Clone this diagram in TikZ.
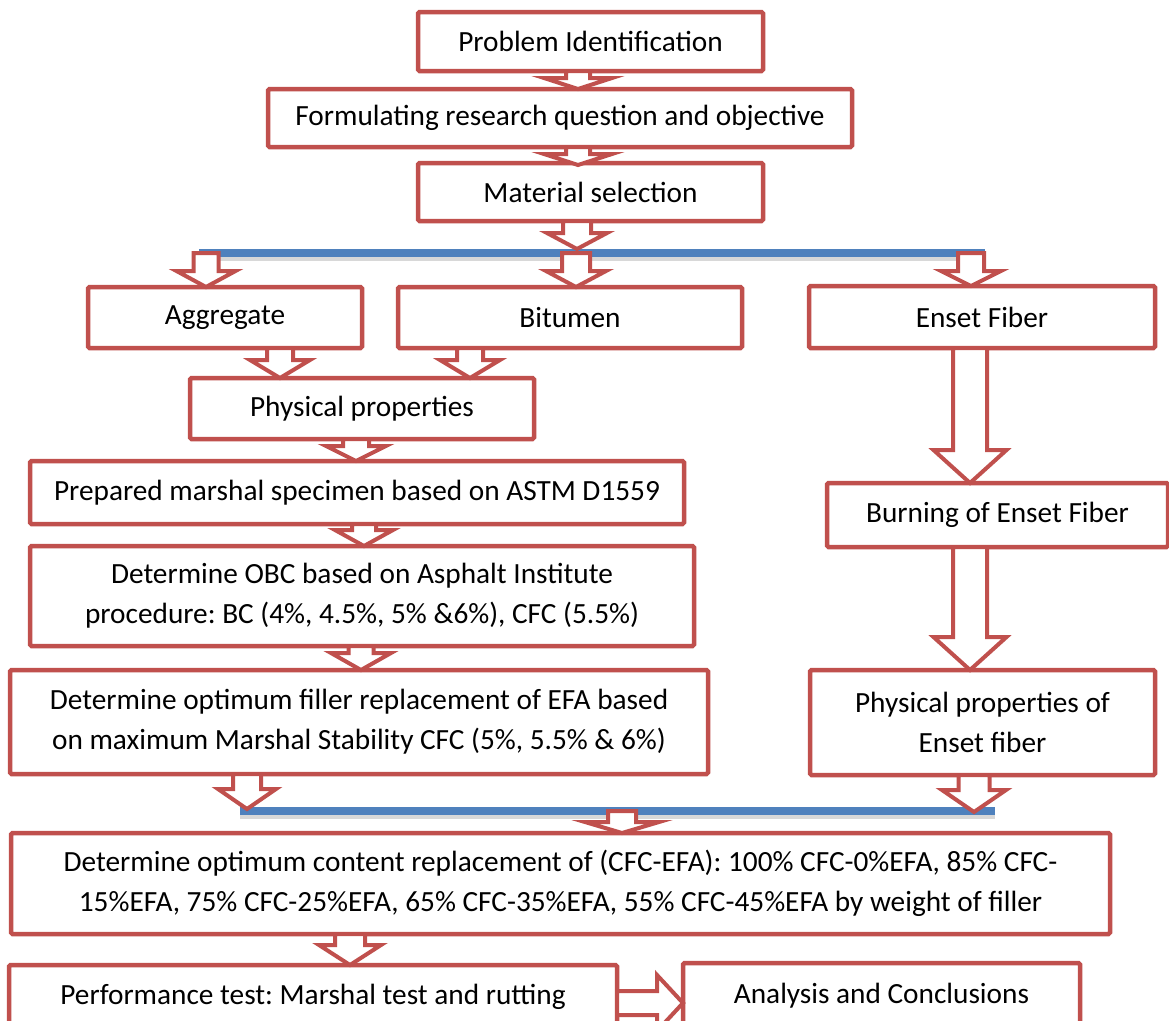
\documentclass[tikz,border=0pt]{standalone}
\usepackage{fontspec}
\setmainfont{Carlito}
\frenchspacing
\usetikzlibrary{calc}
\definecolor{boxred}{HTML}{C0504D}
\definecolor{busblue}{HTML}{4F81BD}
\tikzset{
  box/.style={draw=boxred, line width=4.5pt, fill=white, rounded corners=1.5pt,
    inner sep=0pt, outer sep=0pt, align=center, text=black,
    font=\fontsize{29.3}{40}\selectfont},
  blk/.style={draw=boxred, line width=4pt, fill=white, line join=miter},
  bus/.style={draw=busblue, line width=8pt},
  busshadow/.style={draw=black!30, line width=7pt, opacity=0.5}
}
% down block arrow: x, from, to, shaft half, head half, head length
\newcommand\blkdown[6]{\draw[blk] let \p1=(#2), \p2=(#3) in
  (#1pt-#4pt,\y1) -- (#1pt+#4pt,\y1) -- (#1pt+#4pt,\y2+#6pt) -- (#1pt+#5pt,\y2+#6pt)
  -- (#1pt,\y2) -- (#1pt-#5pt,\y2+#6pt) -- (#1pt-#4pt,\y2+#6pt) -- cycle;}
% right block arrow: from, to, shaft half, head half, head length (y from 'from')
\newcommand\blkright[5]{\draw[blk] let \p1=(#1), \p2=(#2) in
  (\x1,\y1+#3pt) -- (\x2-#5pt,\y1+#3pt) -- (\x2-#5pt,\y1+#4pt) -- (\x2,\y1)
  -- (\x2-#5pt,\y1-#4pt) -- (\x2-#5pt,\y1-#3pt) -- (\x1,\y1-#3pt) -- cycle;}
\begin{document}
\begin{tikzpicture}[x=1pt,y=-1pt]
\useasboundingbox[fill=white] (0,0) rectangle (1169,1020);

% buses
\coordinate (bus1L) at (199,253);
\coordinate (bus1R) at (985,253);
\coordinate (bus2L) at (240,811);
\coordinate (bus2R) at (995,811);
\draw[busshadow] ([yshift=-4pt]bus1L) -- ([yshift=-4pt]bus1R);
\draw[busshadow] ([yshift=-4pt]bus2L) -- ([yshift=-4pt]bus2R);
\draw[bus] (bus1L) -- (bus1R);
\draw[bus] (bus2L) -- (bus2R);

% boxes
\node[box, minimum width=345pt, minimum height=59pt] (prob) at (590.5,41.5) {Problem Identification};
\node[box, minimum width=584pt, minimum height=58pt] (form) at (560,118) {Formulating research question and objective};
\node[box, minimum width=345pt, minimum height=58pt] (mat) at (590.5,192) {Material selection};
\node[box, minimum width=274pt, minimum height=61pt] (agg) at (225,317.5) {Aggregate};
\node[box, minimum width=344pt, minimum height=61pt] (bit) at (570,317.5) {Bitumen};
\node[box, minimum width=346pt, minimum height=62pt] (ens) at (982,317) {Enset Fiber};
\node[box, minimum width=344pt, minimum height=61pt] (phys) at (362,408.5) {Physical properties};
\node[box, minimum width=654pt, minimum height=63pt] (prep) at (357,492.5) {Prepared marshal specimen based on ASTM D1559};
\node[box, minimum width=664pt, minimum height=100pt] (obc) at (362,596) {Determine OBC based on Asphalt Institute\\procedure: BC (4\%, 4.5\%, 5\% \&6\%), CFC (5.5\%)};
\node[box, minimum width=698pt, minimum height=104pt] (fill) at (359,722) {Determine optimum filler replacement of EFA based\\on maximum Marshal Stability CFC (5\%, 5.5\% \& 6\%)};
\node[box, minimum width=341pt, minimum height=64pt] (burn) at (997.5,515) {Burning of Enset Fiber};
\node[box, minimum width=345pt, minimum height=105pt] (physE) at (982.5,722.5) {Physical properties of\\Enset fiber};
\node[box, minimum width=1099pt, minimum height=101pt] (big) at (560.5,883.5) {Determine optimum content replacement of (CFC-EFA): 100\% CFC-0\%EFA, 85\% CFC-\\15\%EFA, 75\% CFC-25\%EFA, 65\% CFC-35\%EFA, 55\% CFC-45\%EFA by weight of filler};
\node[box, minimum width=608pt, minimum height=63pt] (perf) at (313,996.5) {Performance test: Marshal test and rutting};
\node[box, minimum width=397pt, minimum height=65pt] (ana) at (881.5,995.5) {Analysis and Conclusions};

% block arrows
\blkdown{578}{prob.south}{form.north}{12}{34}{11}
\blkdown{578}{form.south}{[yshift=-2pt]mat.north}{12}{34}{11}
\blkdown{577}{mat.south}{[yshift=4pt]bus1L}{14}{30}{16}
\blkdown{576}{bus1L}{bit.north}{14}{30}{16}
\blkdown{206}{bus1L}{agg.north}{12.5}{29.5}{16}
\blkdown{971}{bus1L}{ens.north}{13}{30}{15}
\blkdown{280}{agg.south}{phys.north}{13}{30}{18}
\blkdown{470}{bit.south}{phys.north}{13}{30}{18}
\blkdown{356}{phys.south}{prep.north}{13}{30}{15}
\blkdown{364}{prep.south}{obc.north}{12}{29}{16}
\blkdown{361}{obc.south}{fill.north}{12.5}{30}{17}
\blkdown{247}{fill.south}{[yshift=2pt]bus2L}{14}{29}{20}
\blkdown{974}{physE.south}{[yshift=-1pt]bus2L}{15.5}{32}{22}
\blkdown{622}{bus2L}{big.north}{14}{37}{11}
\blkdown{350}{big.south}{perf.north}{15}{31}{20}
\blkdown{970}{ens.south}{burn.north}{17}{36.5}{33}
\blkdown{970}{burn.south}{physE.north}{17}{36.5}{33}
\blkright{[yshift=-6.5pt]perf.east}{[yshift=-5.5pt]ana.west}{12}{28}{26}
\end{tikzpicture}
\end{document}
